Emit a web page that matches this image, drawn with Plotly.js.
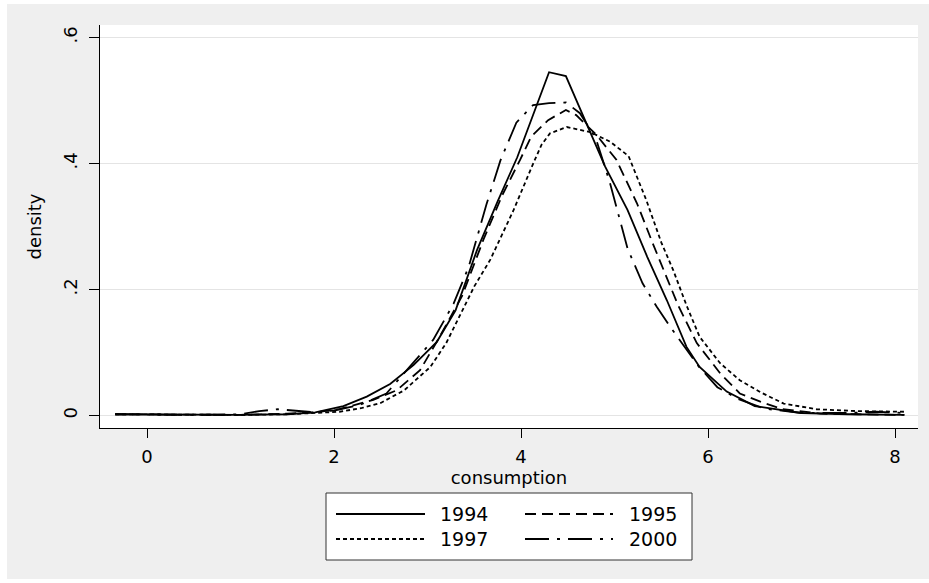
<!DOCTYPE html>
<html><head><meta charset="utf-8">
<script src="https://cdn.plot.ly/plotly-3.0.1.min.js"></script>
<style>html,body{margin:0;padding:0;background:#fff}#chart{width:929px;height:583px}</style>
</head><body><div id="chart"></div>
<script>
// ---- data ----
const seriesNames = ['1994', '1995', '1997', '2000'];

const x1994 = [-0.34, 0.5, 1.0, 1.5, 1.8, 2.1, 2.35, 2.6, 2.85, 3.1, 3.3, 3.53, 3.75, 3.96, 4.30, 4.48, 4.90, 5.14, 5.35, 5.56, 5.77, 5.91, 6.2, 6.5, 7.0, 7.5, 8.1];
const y1994 = [0.002, 0.001, 0.001, 0.002, 0.005, 0.015, 0.03, 0.05, 0.08, 0.117, 0.167, 0.263, 0.34, 0.41, 0.545, 0.539, 0.395, 0.326, 0.252, 0.183, 0.109, 0.077, 0.038, 0.015, 0.004, 0.002, 0.001];

const x1995 = [-0.34, 0.5, 1.0, 1.5, 1.8, 2.06, 2.42, 2.67, 2.92, 3.13, 3.37, 3.6, 3.8, 3.99, 4.11, 4.29, 4.48, 4.59, 4.81, 5.02, 5.24, 5.41, 5.56, 5.68, 5.88, 6.13, 6.34, 6.56, 6.8, 7.2, 7.6, 8.1];
const y1995 = [0.002, 0.001, 0.001, 0.003, 0.005, 0.01, 0.025, 0.04, 0.072, 0.125, 0.19, 0.28, 0.35, 0.406, 0.443, 0.469, 0.485, 0.477, 0.445, 0.406, 0.337, 0.273, 0.22, 0.175, 0.115, 0.067, 0.035, 0.022, 0.01, 0.003, 0.002, 0.001];

const x1997 = [-0.34, 0.5, 1.0, 1.5, 1.8, 2.06, 2.3, 2.5, 2.75, 3.03, 3.2, 3.37, 3.5, 3.67, 3.92, 4.13, 4.22, 4.31, 4.49, 4.74, 4.95, 5.15, 5.34, 5.5, 5.63, 5.77, 5.91, 6.13, 6.34, 6.56, 6.81, 7.16, 7.6, 8.1];
const y1997 = [0.002, 0.001, 0.001, 0.002, 0.004, 0.006, 0.012, 0.02, 0.04, 0.077, 0.115, 0.167, 0.205, 0.247, 0.326, 0.40, 0.43, 0.448, 0.458, 0.45, 0.435, 0.412, 0.342, 0.275, 0.23, 0.175, 0.125, 0.083, 0.056, 0.037, 0.019, 0.01, 0.007, 0.006];

const x2000 = [-0.34, 0.5, 1.0, 1.2, 1.4, 1.6, 1.8, 2.0, 2.28, 2.56, 2.85, 3.06, 3.28, 3.44, 3.63, 3.78, 3.95, 4.13, 4.30, 4.48, 4.63, 4.80, 4.95, 5.14, 5.30, 5.45, 5.60, 5.75, 5.90, 6.1, 6.31, 6.6, 7.0, 7.5, 7.8, 8.1];
const y2000 = [0.002, 0.001, 0.002, 0.007, 0.01, 0.008, 0.005, 0.008, 0.017, 0.035, 0.085, 0.12, 0.178, 0.236, 0.335, 0.405, 0.465, 0.493, 0.496, 0.497, 0.48, 0.44, 0.37, 0.265, 0.21, 0.173, 0.14, 0.11, 0.078, 0.045, 0.027, 0.011, 0.004, 0.004, 0.006, 0.004];

const xTickVals = [0, 2, 4, 6, 8];
const xTickText = ['0', '2', '4', '6', '8'];
const yTickVals = [0, 0.2, 0.4, 0.6];
const yTickText = ['0', '.2', '.4', '.6'];

// ---- styles ----
const FONT = 'DejaVu Sans, Arial, sans-serif';
const LW = 1.8;
const dashes = ['solid', '11px,6px', '4px,3px', '24px,8px,3px,8px'];
const xs = [x1994, x1995, x1997, x2000];
const ys = [y1994, y1995, y1997, y2000];

const traces = seriesNames.map((n, i) => ({
  type: 'scatter', mode: 'lines', name: n,
  x: xs[i], y: ys[i],
  line: {color: '#000', width: LW, dash: dashes[i]},
  hoverinfo: 'skip'
}));

// layout geometry (pixels -> paper)
const W = 929, H = 583, L = 100, R = 11, T = 25, B = 155;
const PW = W - L - R, PH = H - T - B;
const px = v => (v - L) / PW;
const py = v => (H - B - v) / PH;

const shapes = [
  {type: 'rect', xref: 'paper', yref: 'paper', x0: px(7), x1: px(929), y0: py(579), y1: py(4),
   fillcolor: '#efefef', line: {width: 0}, layer: 'below'},
  {type: 'rect', xref: 'paper', yref: 'paper', x0: 0, x1: 1, y0: 0, y1: 1,
   fillcolor: '#ffffff', line: {width: 0}, layer: 'below'},
  // legend box
  {type: 'rect', xref: 'paper', yref: 'paper', x0: px(326), x1: px(692), y0: py(560), y1: py(493),
   fillcolor: '#ffffff', line: {color: '#333', width: 1}, layer: 'above'}
];
const annotations = [];
const legCols = [[336, 425, 464], [525, 613, 653]];
const legRows = [514, 539];
seriesNames.forEach((n, i) => {
  const c = legCols[i % 2], r = legRows[Math.floor(i / 2)];
  shapes.push({type: 'line', xref: 'paper', yref: 'paper', x0: px(c[0]), x1: px(c[1]), y0: py(r), y1: py(r),
    line: {color: '#000', width: LW, dash: dashes[i]}, layer: 'above'});
  annotations.push({xref: 'paper', yref: 'paper', x: px(c[2]), y: py(r), text: n, showarrow: false,
    xanchor: 'center', yanchor: 'middle', font: {family: FONT, size: 19, color: '#000'}});
});

const layout = {
  width: W, height: H, autosize: false,
  margin: {l: L, r: R, t: T, b: B, pad: 0},
  paper_bgcolor: '#ffffff', plot_bgcolor: '#ffffff',
  showlegend: false,
  font: {family: FONT, size: 18, color: '#000'},
  xaxis: {
    range: [-0.503, 8.246], tickmode: 'array', tickvals: xTickVals, ticktext: xTickText,
    ticks: 'outside', ticklen: 9, tickwidth: 1, tickcolor: '#000',
    showline: true, linecolor: '#000', linewidth: 1, showgrid: false, zeroline: false,
    tickfont: {family: FONT, size: 18, color: '#000'}, ticklabelstandoff: 3,
    title: {text: 'consumption', font: {family: FONT, size: 18, color: '#000'}, standoff: 1}
  },
  yaxis: {
    range: [-0.0198, 0.62], tickmode: 'array', tickvals: yTickVals, ticktext: yTickText,
    tickangle: -90, ticks: 'outside', ticklen: 10, tickwidth: 1, tickcolor: '#000',
    showline: true, linecolor: '#000', linewidth: 1,
    showgrid: true, gridcolor: '#e4e4e4', gridwidth: 1.5, zeroline: false,
    tickfont: {family: FONT, size: 18, color: '#000'}, ticklabelstandoff: 5,
    title: {text: 'density', font: {family: FONT, size: 18, color: '#000'}, standoff: 13}
  },
  shapes: shapes,
  annotations: annotations
};

Plotly.newPlot('chart', traces, layout, {displayModeBar: false, staticPlot: true});
</script>
</body></html>
